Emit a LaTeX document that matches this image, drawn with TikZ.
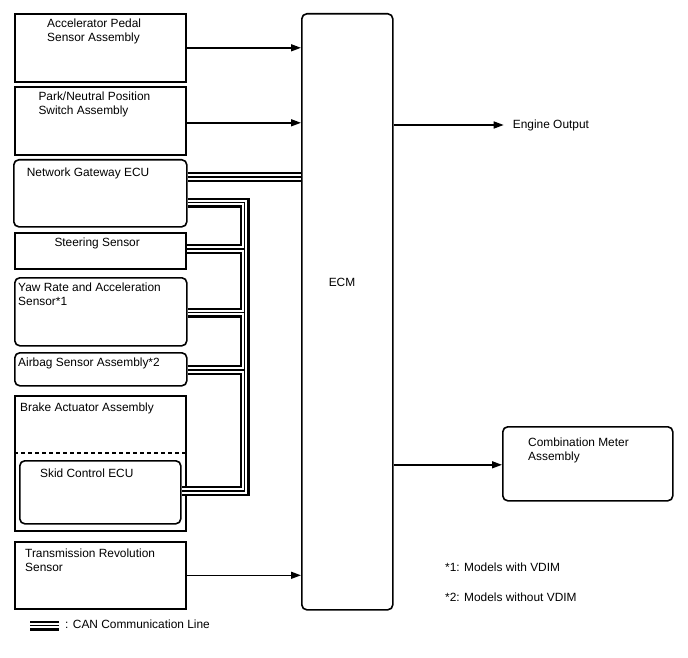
\documentclass[tikz,border=0pt]{standalone}
\usepackage{fontspec}
\setmainfont{Liberation Sans}
\usetikzlibrary{arrows.meta}
\begin{document}
\begin{tikzpicture}[x=1pt,y=-1pt,
  box/.style={draw, line width=1.6pt, anchor=north west, inner sep=0pt},
  rbox/.style={box, rounded corners=5pt},
  lbl/.style={anchor=north west, inner sep=0pt, align=left, font=\fontsize{11.9}{14}\selectfont},
  txt/.style={anchor=west, inner sep=0pt, font=\fontsize{11.9}{14}\selectfont},
  arr/.style={line width=1.5pt, -{Triangle[length=10pt,width=7pt]}},
  canA/.style={line width=10pt, black},
  canB/.style={line width=5.5pt, white},
  canC/.style={line width=1.6pt, black}
]
\useasboundingbox (0,0) rectangle (688,658);

% boxes
\node[box, minimum width=171pt, minimum height=68pt] (acc) at (14,13) {};
\node[box, minimum width=171pt, minimum height=68pt] (pn) at (14,86) {};
\node[rbox, minimum width=173pt, minimum height=67pt] (ngw) at (13,159) {};
\node[box, minimum width=171pt, minimum height=36pt] (st) at (14,232) {};
\node[rbox, minimum width=172pt, minimum height=68pt] (yaw) at (14,277) {};
\node[rbox, minimum width=172pt, minimum height=33pt] (ab) at (14,352) {};
\node[box, minimum width=171pt, minimum height=135pt] (brk) at (14,395) {};
\node[rbox, minimum width=161pt, minimum height=63pt] (sk) at (19,460) {};
\node[box, minimum width=171pt, minimum height=67pt] (tr) at (14,541) {};
\node[rbox, minimum width=91pt, minimum height=596pt] (ecm) at (301,13) {};
\node[rbox, minimum width=170pt, minimum height=74pt] (cm) at (502,426) {};

% dashed separator in brake actuator
\draw[line width=1.5pt, dash pattern=on 4pt off 3pt] (brk.west |- 0,453) -- (brk.east |- 0,453);

% labels
\node[lbl] at (47,18.3) {Accelerator Pedal\\Sensor Assembly};
\node[lbl] at (38.3,91.7) {Park/Neutral Position\\Switch Assembly};
\node[lbl] at (26.7,167.3) {Network Gateway ECU};
\node[lbl] at (54.3,237.3) {Steering Sensor};
\node[lbl] at (18,283) {Yaw Rate and Acceleration\\Sensor*1};
\node[lbl] at (18,357.5) {Airbag Sensor Assembly*2};
\node[lbl] at (20,402.7) {Brake Actuator Assembly};
\node[lbl] at (40,468.3) {Skid Control ECU};
\node[lbl] at (25,548.5) {Transmission Revolution\\Sensor};
\node[lbl] at (528,437.5) {Combination Meter\\Assembly};
\node[txt, anchor=center] (ecmt) at (342,282) {ECM};
\node[txt] (eo) at (512.7,125) {Engine Output};
\node[txt] (n1) at (445,567) {*1: Models with VDIM};
\node[txt] (n2) at (445,597) {*2: Models without VDIM};
\node[txt] (leg) at (65,624.5) {: CAN Communication Line};

% arrows
\draw[arr] (acc.east) -- (acc.east -| ecm.west);
\draw[arr] ([yshift=-2pt]pn.east) -- ([yshift=-2pt]pn.east -| ecm.west);
\draw[arr] (tr.east) -- (tr.east -| ecm.west);
\draw[arr, shorten >=9pt] (eo.west -| ecm.east) -- (eo.west);
\draw[arr] ([yshift=-1pt]cm.west -| ecm.east) -- ([yshift=-1pt]cm.west);

% CAN bus
\coordinate (bx) at (244.5,0);
\coordinate (ngwA) at ([yshift=-18pt]ngw.north east);
\coordinate (ngwB) at ([yshift=-43.5pt]ngw.north east);
\coordinate (skB) at ([yshift=-31pt]sk.north east);
\coordinate (stB) at ([yshift=-17pt]st.north east);
\coordinate (yawB) at ([yshift=-35.5pt]yaw.north east);
\coordinate (abB) at ([yshift=-18pt]ab.north east);
\coordinate (legA) at (30,625.5);
\coordinate (legB) at (59,625.5);
\foreach \s in {canA,canB,canC}{
  \draw[\s] (ngwA) -- (ngwA -| ecm.west);
  \draw[\s] (ngwB) -- (bx |- ngwB) -- (bx |- skB) -- (skB);
  \draw[\s] (stB) -- (stB -| bx);
  \draw[\s] (yawB) -- (yawB -| bx);
  \draw[\s] (abB) -- (abB -| bx);
  \draw[\s] (legA) -- (legB);
}
\end{tikzpicture}
\end{document}
